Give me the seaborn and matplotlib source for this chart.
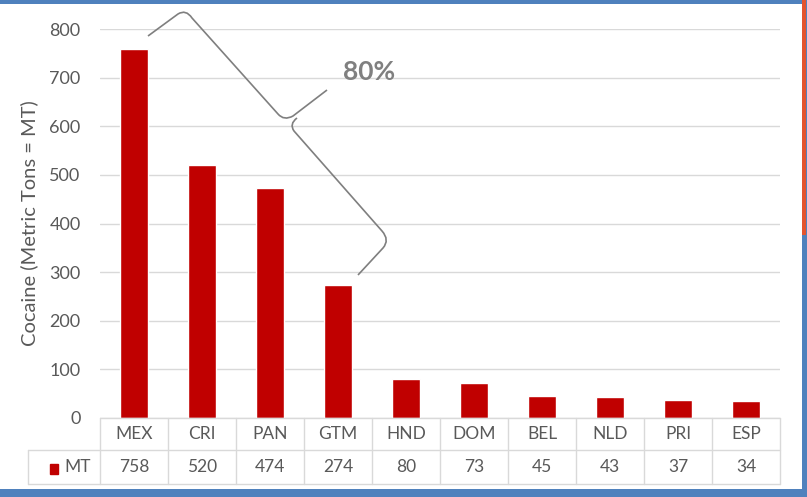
import numpy as np
import matplotlib
matplotlib.use("Agg")
import matplotlib.pyplot as plt
import seaborn as sns
from matplotlib.path import Path
from matplotlib.patches import PathPatch, Rectangle
from matplotlib.lines import Line2D
from matplotlib.transforms import blended_transform_factory

# datos
countries = ["MEX", "CRI", "PAN", "GTM", "HND", "DOM", "BEL", "NLD", "PRI", "ESP"]
tons = [758, 520, 474, 274, 80, 73, 45, 43, 37, 34]
y_ticks = [0, 100, 200, 300, 400, 500, 600, 700, 800]
series_name = "MT"
y_label = "Cocaine (Metric Tons = MT)"
brace_label = "80%"

RED = "#C00000"
TXT = "#595959"
GRID = "#D9D9D9"
W, H = 807, 497

sns.set_theme(style="white")
plt.rcParams["font.family"] = ["Lato", "DejaVu Sans"]

fig = plt.figure(figsize=(W / 100, H / 100), dpi=100)
ax = fig.add_axes([100 / W, 79 / H, 680 / W, 389 / H])


def px(x, y):
    # pixel (origen arriba-izquierda) -> fraccion de figura
    return x / W, 1 - y / H


sns.barplot(x=countries, y=tons, color=RED, width=0.42, saturation=1, ax=ax)
ax.set_xlim(-0.5, len(countries) - 0.5)
ax.set_ylim(0, 800)
ax.set_yticks(y_ticks)
ax.yaxis.grid(True, color=GRID, lw=1)
ax.set_axisbelow(True)
for s in ax.spines.values():
    s.set_visible(False)
ax.tick_params(axis="x", bottom=False, labelbottom=False)
ax.tick_params(axis="y", length=0, pad=14, labelsize=13, labelcolor=TXT)
ax.set_xlabel("")
ax.set_ylabel(y_label, fontsize=14.5, color=TXT)
ax.yaxis.set_label_coords(-0.091, 0.5)

# tabla de datos bajo el grafico
tr = blended_transform_factory(ax.transData, ax.transAxes)
r1 = -32 / 389
r2 = -66 / 389
x_left = -0.5 - 72 / 68
n = len(countries)
lines = [
    ([-0.5, n - 0.5], [0, 0]),
    ([x_left, n - 0.5], [r1, r1]),
    ([x_left, n - 0.5], [r2, r2]),
    ([x_left, x_left], [r1, r2]),
]
for i in range(n + 1):
    lines.append(([i - 0.5, i - 0.5], [0, r2]))
for xs, ys in lines:
    ax.add_line(Line2D(xs, ys, color=GRID, lw=1, transform=tr, clip_on=False))

for i, (c, v) in enumerate(zip(countries, tons)):
    ax.text(i, r1 / 2, c, transform=tr, ha="center", va="center",
            fontsize=12.5, color=TXT)
    ax.text(i, (r1 + r2) / 2, str(v), transform=tr, ha="center", va="center",
            fontsize=12.5, color=TXT)

ax.add_patch(Rectangle((-0.5 - 50 / 68, -56 / 389), 8 / 68, 10 / 389,
                       transform=tr, color=RED, clip_on=False))
ax.text(-0.5 - 36 / 68, (r1 + r2) / 2, series_name, transform=tr,
        ha="left", va="center", fontsize=12.5, color=TXT)

# llave rotada
M, L, Q = Path.MOVETO, Path.LINETO, Path.CURVE3
brace_px = [
    ((148, 36), M), ((178, 14), L), ((186, 9), Q), ((192, 18), Q),
    ((278, 114), L), ((284, 121), Q), ((293, 116), Q), ((327, 90), L),
    ((297, 118), M), ((289, 124), Q), ((294, 131), Q), ((382, 231), L),
    ((390, 240), Q), ((383, 248), Q), ((358, 275), L),
]
verts = [px(*p) for p, _ in brace_px]
codes = [c for _, c in brace_px]
fig.patches.append(PathPatch(Path(verts, codes), transform=fig.transFigure,
                             fill=False, edgecolor="#7F7F7F", lw=1.2))
fig.text(*px(369, 72), brace_label, ha="center", va="center",
         fontsize=19, fontweight="bold", color="#808080")

# marco azul de la captura
BLUE = "#4F81BD"
for (x0, y0, w, h) in [(0, 0, W, 4), (0, 489, W, 8), (802, 0, 5, H)]:
    fx, fy = px(x0, y0 + h)
    fig.patches.append(Rectangle((fx, fy), w / W, h / H, transform=fig.transFigure,
                                 color=BLUE, lw=0))
fx, fy = px(802, 235)
fig.patches.append(Rectangle((fx, fy), 4 / W, 235 / H, transform=fig.transFigure,
                             color="#E4542E", lw=0))

fig.savefig("out.png", dpi=100)
